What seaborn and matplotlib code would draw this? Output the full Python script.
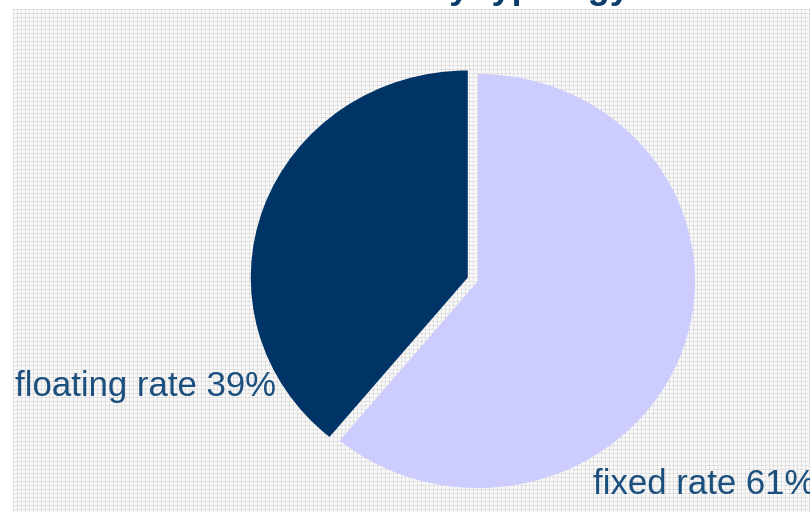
import numpy as np
import matplotlib
matplotlib.use("Agg")
import matplotlib.pyplot as plt
import seaborn as sns

# Debt split by rate typology
labels = ["fixed rate", "floating rate"]
shares = [61, 39]
colors = ["#CCCCFF", "#003366"]
title = "Debt by typology"

sns.set_theme(style="white")
plt.rcParams["font.family"] = ["Liberation Sans", "DejaVu Sans"]

W, H = 810, 517
fig = plt.figure(figsize=(W / 100, H / 100), dpi=100)
fig.patch.set_facecolor("white")

# patterned backdrop (fine grey grid texture)
bx0, by0, bx1, by1 = 13, 9, 810, 512
bw, bh = bx1 - bx0, by1 - by0
yy, xx = np.mgrid[0:bh, 0:bw]
tex = np.full((bh, bw), 0.975)
tex[(xx % 4) == 0] = 0.89
tex[(yy % 4) == 0] = 0.89
tex[((xx % 4) == 0) & ((yy % 4) == 0)] = 0.84
bg = fig.add_axes([bx0 / W, 1 - by1 / H, bw / W, bh / H])
bg.imshow(tex, cmap="gray", vmin=0, vmax=1, interpolation="nearest", aspect="auto")
bg.set_axis_off()

# pie axes: one x unit = 217 px, one y unit = 207 px
rx, ry = 217, 207
ax = fig.add_axes([0, 0, 1, 1])
ax.patch.set_alpha(0)
cx, cy = 478, 281
wedges, _ = ax.pie(
    shares,
    colors=colors,
    startangle=90,
    counterclock=False,
    explode=[0, 0.05],
    radius=1,
    center=(cx / rx, (H - cy) / ry),
    frame=True,
    wedgeprops=dict(linewidth=0),
)
ax.set_aspect("auto")
ax.set_xlim(0, W / rx)
ax.set_ylim(0, H / ry)
ax.set_axis_off()

text_color = "#1b4f7e"
fig.text(15 / W, 1 - 396 / H, f"{labels[1]} {shares[1]}%", fontsize=25,
         color=text_color, ha="left", va="baseline")
fig.text(593 / W, 1 - 494 / H, f"{labels[0]} {shares[0]}%", fontsize=25,
         color=text_color, ha="left", va="baseline")

fig.text(483 / W, 1 + 2 / H, title, fontsize=26, fontweight="bold",
         color="#0a3d6b", ha="center", va="baseline")

fig.savefig("out.png", dpi=100, facecolor="white")
